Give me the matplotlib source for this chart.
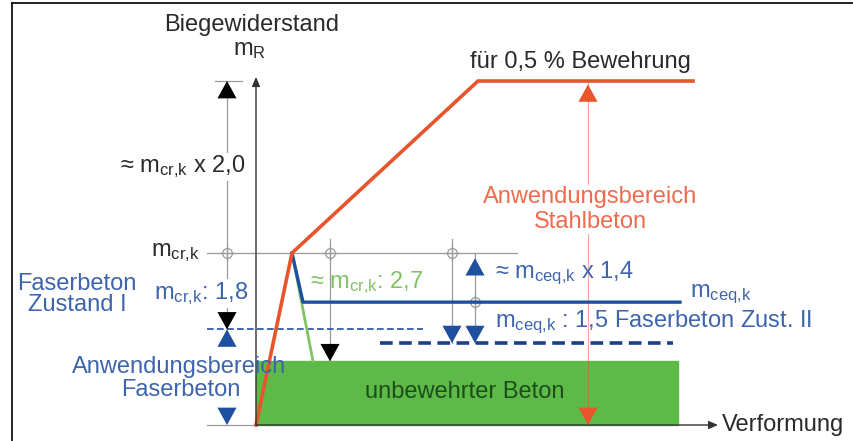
#!/usr/bin/env python
#-*-encoding:utf-8-*-

import matplotlib
matplotlib.use("Agg")
import matplotlib.pyplot as plt
import matplotlib as mpl
from matplotlib.patches import Rectangle

mpl.rcParams['font.family'] = ['Liberation Sans', 'DejaVu Sans']
mpl.rcParams['mathtext.default'] = 'regular'
mpl.rcParams['font.size'] = 17.0

# values in units of m_cr,k (y) and arbitrary deformation units (x)
m_cr = 1.0
f_stahl = 2.0    # m_cr,k x 2,0
f_fb1 = 1.8      # m_cr,k : 1,8
f_plain = 2.7    # m_cr,k : 2,7
f_ceq = 1.4      # m_ceq,k x 1,4
f_fb2 = 1.5      # m_ceq,k : 1,5

m_ceq = m_cr / f_ceq
lvl_fb1 = m_cr / f_fb1
lvl_plain = m_cr / f_plain
lvl_fb2 = m_ceq / f_fb2

red_x = [0.0, 0.36, 2.22, 4.37]
red_y = [0.0, m_cr, m_cr * f_stahl, m_cr * f_stahl]
blue_x = [0.36, 0.47, 4.24]
blue_y = [m_cr, m_ceq, m_ceq]
green_x = [0.36, 0.57]
green_y = [m_cr, lvl_plain]
plain_width = 4.22

RED = '#e8542c'
BLUE = '#1f4f9f'
NAVY = '#1a3f8f'
GREEN = '#5dba47'
LGREEN = '#80c264'
TBLUE = '#3e64ac'
TRED = '#ef6a4e'
GREY = '#9a9a9a'
DARK = '#2a2a2a'

fig = plt.figure(figsize=(8.54, 4.41), dpi=100)
ax = fig.add_axes([0, 0, 1, 1])
ax.set_xlim(-2.56, 5.98)
ax.set_ylim(-16/172., 425/172.)
ax.axis('off')

# frame
fig.add_artist(plt.Line2D([12/854., 12/854.], [0, 1-3/441.], color='k', lw=1.2))
fig.add_artist(plt.Line2D([12/854., 1], [1-3/441., 1-3/441.], color='k', lw=1.2))

# plain concrete area
ax.add_patch(Rectangle((0, 0), plain_width, lvl_plain, color=GREEN, zorder=1))

# helper lines
ax.plot([-0.49, 2.61], [m_cr, m_cr], color=GREY, lw=0.9, zorder=2)
ax.plot([-0.41, -0.14], [f_stahl*m_cr, f_stahl*m_cr], color=GREY, lw=0.9, zorder=2)
ax.plot([-0.49, 0.0], [0, 0], color=GREY, lw=0.9, zorder=2)
ax.plot([-0.29, -0.29], [f_stahl*m_cr, lvl_fb2], color=GREY, lw=0.9, zorder=2)
ax.plot([0.74, 0.74], [1.08, lvl_plain], color=GREY, lw=0.9, zorder=2)
ax.plot([1.96, 1.96], [1.08, lvl_fb2], color=GREY, lw=0.9, zorder=2)
ax.plot([2.19, 2.19], [m_cr, lvl_fb2], color=GREY, lw=0.9, zorder=2)
ax.plot([3.32, 3.32], [f_stahl*m_cr, 0], color=RED, lw=0.8, alpha=0.5, zorder=2)

for cx, cy in [(-0.29, m_cr), (0.74, m_cr), (1.96, m_cr), (2.19, m_ceq)]:
    ax.plot(cx, cy, marker='o', ms=7, mfc='none', mec=GREY, mew=0.9, zorder=3)
    ax.plot(cx, cy, marker='+', ms=11, mec=GREY, mew=0.9, zorder=3)

# levels
ax.plot([-0.49, 1.67], [lvl_fb1, lvl_fb1], color=BLUE, lw=1.2, dashes=(4, 2), zorder=3)
ax.plot([1.24, 4.17], [lvl_fb2, lvl_fb2], color=NAVY, lw=2.6, dashes=(3.5, 1.8), zorder=3)

# curves
ax.plot(green_x, green_y, color=LGREEN, lw=2.0, zorder=4)
ax.plot(blue_x, blue_y, color=BLUE, lw=2.4, zorder=5)
ax.plot(red_x, red_y, color=RED, lw=2.6, zorder=6, solid_joinstyle='miter')

# axes
ax.annotate('', xy=(0, 2.023), xytext=(0, 0),
            arrowprops=dict(arrowstyle='-|>,head_length=0.5,head_width=0.22',
                            color='#333333', lw=1.0, shrinkA=0, shrinkB=0,
                            mutation_scale=11), zorder=7)
ax.annotate('', xy=(4.62, 0), xytext=(0, 0),
            arrowprops=dict(arrowstyle='-|>,head_length=0.5,head_width=0.22',
                            color='#333333', lw=1.0, shrinkA=0, shrinkB=0,
                            mutation_scale=11), zorder=7)


def head(x, y, up, color):
    dy = -12.5 if up else 12.5
    ax.annotate('', xy=(x, y), xytext=(0, dy), textcoords='offset points',
                arrowprops=dict(arrowstyle='-|>,head_length=1.0,head_width=0.55',
                                color=color, lw=0, shrinkA=0, shrinkB=0,
                                mutation_scale=12.5), zorder=8)


head(-0.29, f_stahl*m_cr, True, 'k')
head(-0.29, lvl_fb1, False, 'k')
head(-0.29, lvl_fb1, True, BLUE)
head(-0.29, 0.0, False, BLUE)
head(0.74, lvl_plain, False, 'k')
head(1.96, lvl_fb2, False, BLUE)
head(2.19, lvl_fb2, False, BLUE)
head(2.19, 0.97, True, BLUE)
head(3.32, 1.98, True, RED)
head(3.32, 0.0, False, RED)

# texts
ax.text(-0.04, 2.326, "Biegewiderstand", ha='center', va='center', color=DARK)
ax.text(-0.06, 2.18, "$m_R$", ha='center', va='center', color=DARK)
ax.text(-0.10, 1.50, u"≈ $m_{cr{,}k}$ x 2,0", ha='right', va='center', color=DARK,
        bbox=dict(fc='white', ec='none', pad=0.5), zorder=9)
ax.text(-0.56, 1.0, "$m_{cr{,}k}$", ha='right', va='center', color=DARK)
ax.text(-1.79, 0.82, "Faserbeton", ha='center', va='center', color=TBLUE)
ax.text(-1.79, 0.70, "Zustand I", ha='center', va='center', color=TBLUE)
ax.text(-0.08, 0.765, "$m_{cr{,}k}$: 1,8", ha='right', va='center', color=TBLUE,
        bbox=dict(fc='white', ec='none', pad=0.5), zorder=9)
ax.text(-0.77, 0.337, "Anwendungsbereich", ha='center', va='center', color=TBLUE, zorder=9)
ax.text(-0.75, 0.203, "Faserbeton", ha='center', va='center', color=TBLUE, zorder=9)
ax.text(0.54, 0.83, u"≈ $m_{cr{,}k}$: 2,7", ha='left', va='center', color=LGREEN, zorder=9)
ax.text(2.39, 0.88, u"≈ $m_{ceq{,}k}$ x 1,4", ha='left', va='center', color=TBLUE, zorder=9)
ax.text(4.34, 0.76, "$m_{ceq{,}k}$", ha='left', va='center', color=TBLUE, zorder=9)
ax.text(2.39, 0.60, "$m_{ceq{,}k}$ : 1,5 Faserbeton Zust. II", ha='left', va='center',
        color=TBLUE, zorder=9)
ax.text(3.24, 2.11, u"für 0,5 % Bewehrung", ha='center', va='center', color=DARK)
ax.text(3.34, 1.326, "Anwendungsbereich", ha='center', va='center', color=TRED,
        bbox=dict(fc='white', ec='none', pad=0.5), zorder=9)
ax.text(3.34, 1.18, "Stahlbeton", ha='center', va='center', color=TRED,
        bbox=dict(fc='white', ec='none', pad=0.5), zorder=9)
ax.text(2.09, 0.19, "unbewehrter Beton", ha='center', va='center', color='#1d4d1d', zorder=9)
ax.text(4.66, 0.0, "Verformung", ha='left', va='center', color=DARK)

fig.savefig("out.png", dpi=100)
